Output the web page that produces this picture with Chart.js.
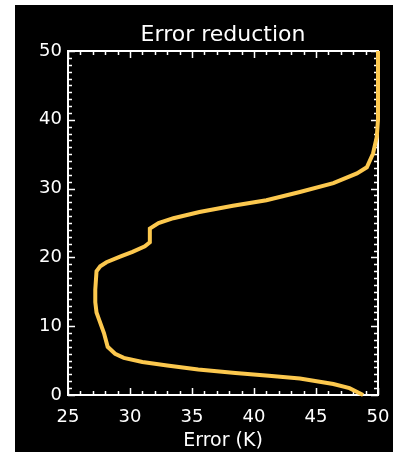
<!DOCTYPE html>
<html><head><meta charset="utf-8">
<script src="https://cdn.jsdelivr.net/npm/chart.js@4/dist/chart.umd.min.js"></script>
<style>
html,body{margin:0;padding:0;background:#fff;width:393px;height:452px;overflow:hidden}
#wrap{position:absolute;left:15px;top:5px;width:378px;height:447px;background:#000}
canvas{display:block}
</style></head><body>
<div id="wrap"><canvas id="c" width="378" height="447"></canvas></div>
<script>
// Data
const errorK = [48.8,47.7,46.4,43.7,41.2,38.5,35.5,33.0,31.0,29.5,28.8,28.2,27.9,27.5,27.3,27.2,27.2,27.3,27.6,28.1,29.2,30.2,31.2,31.6,31.6,32.3,33.5,35.6,38.3,41.0,43.7,46.4,48.3,49.1,49.6,49.9,50.0,50.0];
const height = [0,1.0,1.6,2.4,2.8,3.2,3.7,4.3,4.8,5.4,6.0,7.0,9.0,11.0,12.0,13.5,15.3,18.0,18.7,19.3,20.1,20.8,21.6,22.2,24.2,25.0,25.7,26.6,27.5,28.3,29.5,30.8,32.2,33.1,35.1,37.5,40.0,50.0];
const xTickLabels = [25,30,35,40,45,50];
const yTickLabels = [0,10,20,30,40,50];
const chartTitle = 'Error reduction';
const xTitle = 'Error (K)';

const FONT = "'DejaVu Sans', sans-serif";
const points = errorK.map((e,i)=>({x:e,y:height[i]}));

const tickPlugin = {
  id:'idlTicks',
  beforeDatasetsDraw(chart){
    const {ctx, chartArea:a, scales} = chart;
    const xs = scales.x, ys = scales.y;
    ctx.save();
    ctx.strokeStyle = '#fff';
    ctx.lineWidth = 1.5;
    ctx.beginPath();
    for (let v = xs.min; v <= xs.max + 1e-9; v += 1) {
      const px = Math.round(xs.getPixelForValue(v)) + 0.5;
      const len = (Math.abs(v % 5) < 1e-6) ? 7 : 4;
      ctx.moveTo(px, a.bottom); ctx.lineTo(px, a.bottom - len);
      ctx.moveTo(px, a.top); ctx.lineTo(px, a.top + len);
    }
    for (let v = ys.min; v <= ys.max + 1e-9; v += 1) {
      const py = Math.round(ys.getPixelForValue(v)) + 0.5;
      const len = (Math.abs(v % 10) < 1e-6) ? 7 : 4;
      ctx.moveTo(a.left, py); ctx.lineTo(a.left + len, py);
      ctx.moveTo(a.right, py); ctx.lineTo(a.right - len, py);
    }
    ctx.stroke();
    ctx.restore();
  }
};

new Chart(document.getElementById('c'), {
  type: 'scatter',
  data: { datasets: [{
    data: points,
    showLine: true,
    borderColor: '#fcc84e',
    backgroundColor: '#fcc84e',
    borderWidth: 4,
    pointRadius: 0,
    tension: 0,
    clip: false
  }]},
  options: {
    responsive: false,
    animation: false,
    layout: { padding: 0 },
    plugins: { legend: {display:false}, tooltip: {enabled:false} },
    scales: {
      x: {
        type: 'linear', position: 'bottom', min: 25, max: 50,
        afterBuildTicks(s){ s.ticks = xTickLabels.map(v=>({value:v})); },
        afterFit(s){ s.height = 57; s.paddingRight = 0; s.paddingLeft = 0; },
        grid: { display: true, drawOnChartArea: false, drawTicks: false },
        border: { display: true, color: '#fff', width: 2 },
        ticks: { color: '#fff', font: {family: FONT, size: 18}, padding: 12, maxRotation: 0 },
        title: { display: true, text: xTitle, color: '#fff', font: {family: FONT, size: 19}, padding: {top:0, bottom:0} }
      },
      x2: {
        type: 'linear', position: 'top', min: 25, max: 50,
        afterFit(s){ s.height = 46; s.paddingRight = 0; s.paddingLeft = 0; },
        grid: { display: true, drawOnChartArea: false, drawTicks: false },
        border: { display: true, color: '#fff', width: 2 },
        ticks: { display: false },
        title: { display: true, text: chartTitle, color: '#fff', font: {family: FONT, size: 22}, padding: {top:17, bottom:0} }
      },
      y: {
        type: 'linear', position: 'left', min: 0, max: 50,
        afterBuildTicks(s){ s.ticks = yTickLabels.map(v=>({value:v})); },
        afterFit(s){ s.width = 53; s.paddingTop = 0; s.paddingBottom = 0; },
        grid: { display: true, drawOnChartArea: false, drawTicks: false },
        border: { display: true, color: '#fff', width: 2 },
        ticks: { color: '#fff', font: {family: FONT, size: 18}, padding: 6 }
      },
      y2: {
        type: 'linear', position: 'right', min: 0, max: 50,
        afterFit(s){ s.width = 15; s.paddingTop = 0; s.paddingBottom = 0; },
        grid: { display: true, drawOnChartArea: false, drawTicks: false },
        border: { display: true, color: '#fff', width: 2 },
        ticks: { display: false }
      }
    }
  },
  plugins: [tickPlugin]
});
</script>
</body></html>
